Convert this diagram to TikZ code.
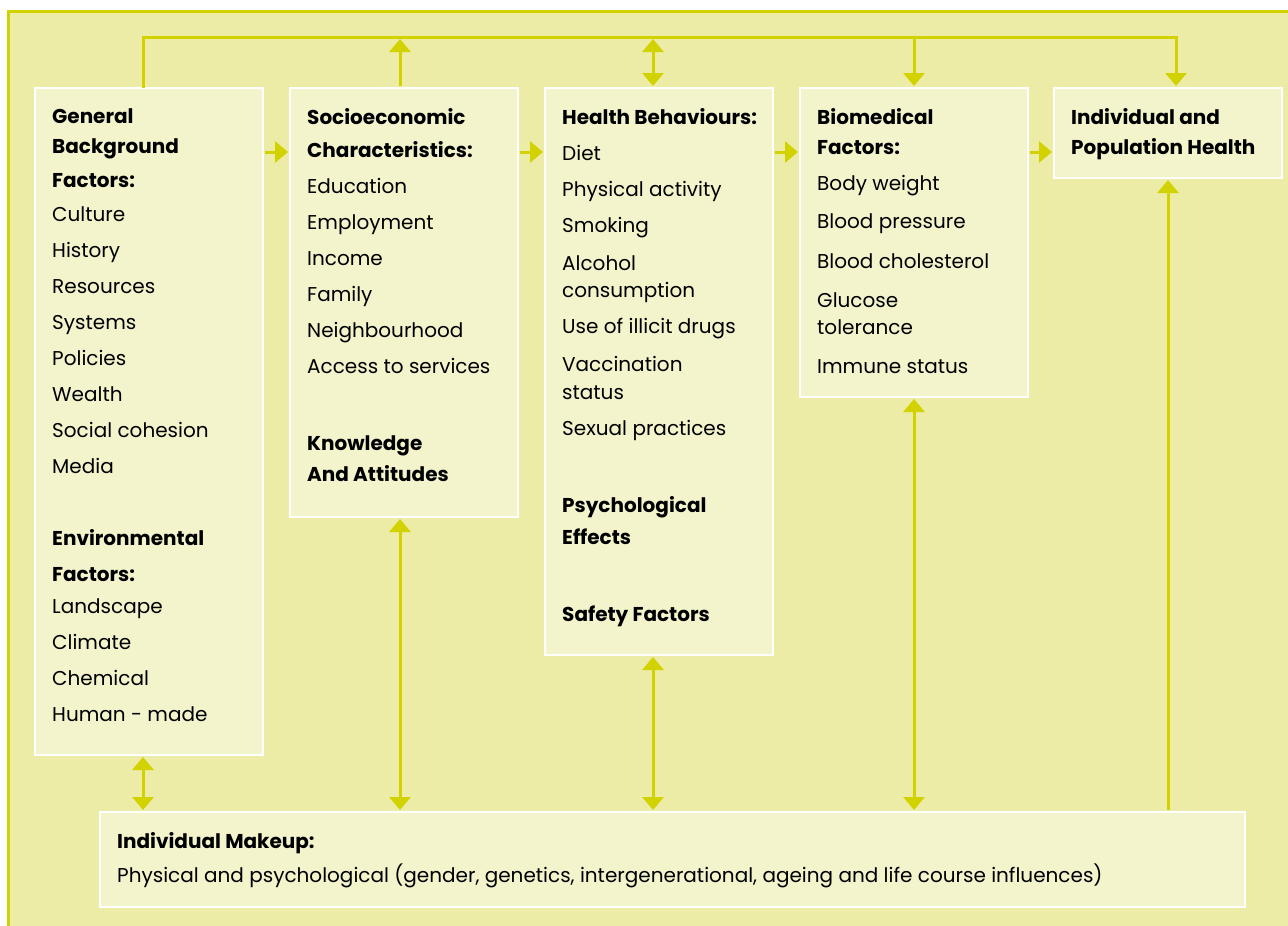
\documentclass[tikz,border=0pt]{standalone}
\usepackage{fontspec}
\setmainfont{Poppins}
\usetikzlibrary{arrows.meta,positioning}

\definecolor{pagebg}{RGB}{237,236,166}
\definecolor{panelfill}{RGB}{243,244,204}
\definecolor{linkc}{RGB}{210,210,0}

\tikzset{
  panel/.style={draw=white, line width=2pt, fill=panelfill, anchor=north west,
    minimum width=228pt, inner sep=0pt, outer sep=0pt},
  paneltext/.style={anchor=north west, align=left, inner sep=0pt,
    font=\fontsize{20}{36}\selectfont},
  link/.style={draw=linkc, line width=3pt, shorten >=2pt, shorten <=2pt,
    -{Triangle[width=21pt,length=13pt]}},
  link2/.style={link, {Triangle[width=21pt,length=13pt]}-{Triangle[width=21pt,length=13pt]}},
}

\begin{document}
\begin{tikzpicture}[x=1pt,y=-1pt]

\useasboundingbox (0,0) rectangle (1288,926);
\draw[draw=linkc, line width=3pt, fill=pagebg] (8,11) rectangle (1300,940);

% factor panels
\node[panel, minimum height=667pt] (bg) at (35,88) {};
\node[panel, minimum height=429pt, right=27pt of bg.north east, anchor=north west] (socio) {};
\node[panel, minimum height=567pt, right=27pt of socio.north east, anchor=north west] (health) {};
\node[panel, minimum height=309pt, right=27pt of health.north east, anchor=north west] (bio) {};
\node[panel, minimum height=90pt, right=26pt of bio.north east, anchor=north west] (pop) {};
\node[panel, minimum width=1145pt, minimum height=95pt] (makeup) at (100,812) {};

% panel texts
\node[paneltext] (bgtext) at ([shift={(17pt,-20pt)}]bg.north west)
  {\textbf{General}\\[-6pt]\textbf{Background}\\[-2pt]\textbf{Factors:}\\[-2pt]
   Culture\\History\\Resources\\Systems\\Policies\\Wealth\\Social cohesion\\Media\\[36pt]
   \textbf{Environmental}\\\textbf{Factors:}\\[-4pt]
   Landscape\\Climate\\Chemical\\Human - made};
\node[paneltext] (sociotext) at ([shift={(17pt,-20pt)}]socio.north west)
  {\textbf{Socioeconomic}\\[-3pt]\textbf{Characteristics:}\\
   Education\\Employment\\Income\\Family\\Neighbourhood\\Access to services\\[41pt]
   \textbf{Knowledge}\\[-5pt]\textbf{And Attitudes}};
\node[paneltext] (healthtext) at ([shift={(17pt,-20pt)}]health.north west)
  {\textbf{Health Behaviours:}\\Diet\\Physical activity\\Smoking\\[2pt]
   Alcohol\\[-9pt]consumption\\Use of illicit drugs\\[2pt]
   Vaccination\\[-8pt]status\\Sexual practices\\[41pt]
   \textbf{Psychological}\\[-4pt]\textbf{Effects}\\[41pt]
   \textbf{Safety Factors}};
\node[paneltext] (biotext) at ([shift={(17pt,-20pt)}]bio.north west)
  {\textbf{Biomedical}\\[-6pt]\textbf{Factors:}\\Body weight\\[2pt]Blood pressure\\[4pt]
   Blood cholesterol\\[3pt]Glucose\\[-9pt]tolerance\\[3pt]Immune status};
\node[paneltext] (poptext) at ([shift={(17pt,-20pt)}]pop.north west)
  {\textbf{Individual and}\\[-6pt]\textbf{Population Health}};
\node[paneltext] (makeuptext) at ([shift={(17pt,-20pt)}]makeup.north west)
  {\textbf{Individual Makeup:}\\[-2pt]Physical and psychological (gender, genetics, intergenerational, ageing and life course influences)};

% feedback bar along the top
\coordinate (bar) at ([xshift=-6pt,yshift=51pt]bg.north);
\draw[link, shorten <=0pt] ([xshift=-6pt]bg.north) -- (bar) -| ([xshift=8pt]pop.north);
\draw[link] ([xshift=-4pt]socio.north) -- ([xshift=-4pt]socio.north |- bar);
\draw[link2] ([xshift=-6pt]health.north |- bar) -- ([xshift=-6pt]health.north);
\draw[link] (bio.north |- bar) -- (bio.north);

% main chain
\draw[link] ([yshift=-64pt]bg.north east) -- ([yshift=-64pt]socio.north west);
\draw[link] ([yshift=-64pt]socio.north east) -- ([yshift=-64pt]health.north west);
\draw[link] ([yshift=-64pt]health.north east) -- ([yshift=-64pt]bio.north west);
\draw[link] ([yshift=-64pt]bio.north east) -- ([yshift=-64pt]pop.north west);

% links to individual makeup
\draw[link2] ([xshift=-6pt]bg.south) -- ([xshift=-6pt]bg.south |- makeup.north);
\draw[link2] ([xshift=-4pt]socio.south) -- ([xshift=-4pt]socio.south |- makeup.north);
\draw[link2] ([xshift=-6pt]health.south) -- ([xshift=-6pt]health.south |- makeup.north);
\draw[link2] (bio.south) -- (bio.south |- makeup.north);
\draw[link] (makeup.north -| pop.south) -- (pop.south);

\end{tikzpicture}
\end{document}
